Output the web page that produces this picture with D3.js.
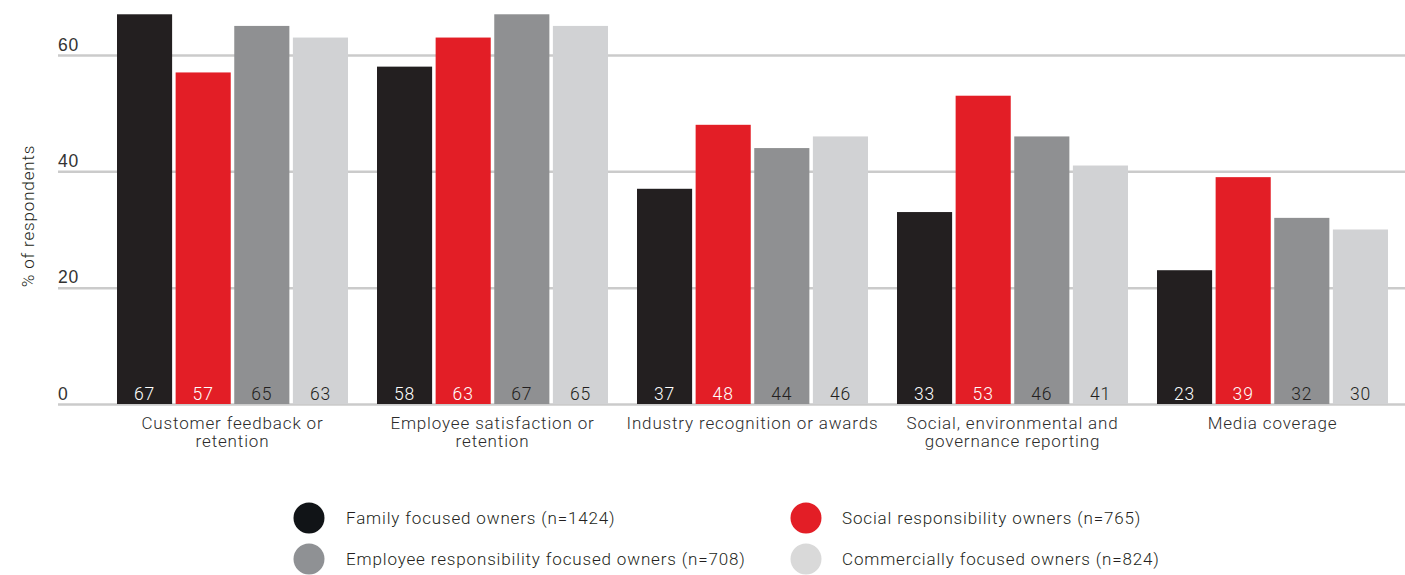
<!DOCTYPE html>
<html>
<head>
<meta charset="utf-8">
<script src="https://cdn.jsdelivr.net/npm/d3@7"></script>
<style>
  html, body { margin: 0; padding: 0; background: #ffffff; }
  svg { display: block; font-family: Roboto, "Liberation Sans", Arial, sans-serif; font-weight: 300; letter-spacing: 0.85px; }
</style>
</head>
<body>
<svg id="chart" width="1405" height="575"></svg>
<script>
// Performance measures by owner type (% of respondents)
const categories = [
  "Customer feedback or\nretention",
  "Employee satisfaction or\nretention",
  "Industry recognition or awards",
  "Social, environmental and\ngovernance reporting",
  "Media coverage"
];
const seriesNames = [
  "Family focused owners (n=1424)",
  "Social responsibility owners (n=765)",
  "Employee responsibility focused owners (n=708)",
  "Commercially focused owners (n=824)"
];
const familyValues     = [67, 58, 37, 33, 23];
const socialValues     = [57, 63, 48, 53, 39];
const employeeValues   = [65, 67, 44, 46, 32];
const commercialValues = [63, 65, 46, 41, 30];
const yTicks = [0, 20, 40, 60];

const seriesValues = [familyValues, socialValues, employeeValues, commercialValues];
const barColors   = ["#231f20", "#e31e26", "#8f9092", "#d1d2d4"];
const labelColors = ["#ffffff", "#ffffff", "#231f20", "#231f20"];
const legendColors = ["#111417", "#e31e26", "#8f9194", "#d9d9d9"];

const svg = d3.select("#chart");

const y = d3.scaleLinear().domain([0, 60]).range([404, 55]);

const x0 = d3.scaleBand()
  .domain(d3.range(categories.length))
  .range([88, 1417])
  .paddingInner(29 / 260)
  .paddingOuter(29 / 260);

const x1 = d3.scaleBand()
  .domain(d3.range(seriesNames.length))
  .range([0, x0.bandwidth()])
  .paddingInner(0.06);

// gridlines and tick labels
const gridG = svg.append("g");
const yAxis = d3.axisLeft(y).tickValues(yTicks).tickSize(0).tickFormat(d3.format("d"));
const axisG = gridG.append("g").attr("transform", "translate(58,0)").call(yAxis);
axisG.select(".domain").remove();
axisG.selectAll(".tick line")
  .attr("x1", 0).attr("x2", 1405 - 58)
  .attr("stroke", "#cbcbcb").attr("stroke-width", 2.5);
axisG.selectAll(".tick text")
  .attr("x", 0).attr("dy", -5)
  .attr("text-anchor", "start")
  .attr("dominant-baseline", "auto")
  .attr("fill", "#333333")
  .style("font-family", "inherit")
  .style("font-size", "17.5px");

// y axis title
svg.append("text")
  .attr("transform", "translate(34,216) rotate(-90)")
  .attr("text-anchor", "middle")
  .attr("fill", "#231f20")
  .style("font-size", "17px")
  .text("% of respondents");

// bars
const groups = svg.append("g").selectAll("g")
  .data(categories)
  .join("g")
  .attr("transform", (d, i) => `translate(${x0(i)},0)`);

groups.each(function(cat, ci) {
  const g = d3.select(this);
  const rows = seriesValues.map((vals, si) => ({ si, v: vals[ci] }));
  g.selectAll("rect")
    .data(rows)
    .join("rect")
    .attr("x", d => x1(d.si))
    .attr("width", x1.bandwidth())
    .attr("y", d => y(d.v))
    .attr("height", d => y(0) - y(d.v))
    .attr("fill", d => barColors[d.si]);
  g.selectAll("text.val")
    .data(rows)
    .join("text")
    .attr("class", "val")
    .attr("x", d => x1(d.si) + x1.bandwidth() / 2)
    .attr("y", y(0) - 4.5)
    .attr("text-anchor", "middle")
    .attr("fill", d => labelColors[d.si])
    .style("font-size", "17.5px")
    .text(d => d.v);

  // category label
  const lines = cat.split("\n");
  const t = g.append("text")
    .attr("text-anchor", "middle")
    .attr("fill", "#2b2b2b")
    .style("font-size", "17px");
  lines.forEach((ln, li) => {
    t.append("tspan")
      .attr("x", x0.bandwidth() / 2)
      .attr("y", 429 + li * 18)
      .text(ln);
  });
});

// legend
const legendPos = [
  { cx: 309, tx: 346, cy: 518 },
  { cx: 806, tx: 842, cy: 518 },
  { cx: 309, tx: 346, cy: 559 },
  { cx: 806, tx: 842, cy: 559 }
];
const legend = svg.append("g").selectAll("g")
  .data(seriesNames)
  .join("g");
legend.append("circle")
  .attr("cx", (d, i) => legendPos[i].cx)
  .attr("cy", (d, i) => legendPos[i].cy)
  .attr("r", 15.5)
  .attr("fill", (d, i) => legendColors[i]);
legend.append("text")
  .attr("x", (d, i) => legendPos[i].tx)
  .attr("y", (d, i) => legendPos[i].cy + 6)
  .attr("fill", "#231f20")
  .style("font-size", "17px")
  .text(d => d);
</script>
</body>
</html>
